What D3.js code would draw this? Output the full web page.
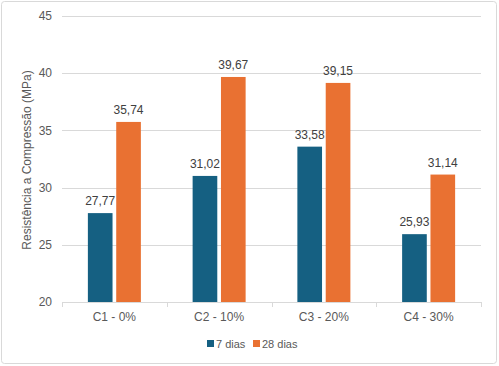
<!DOCTYPE html>
<html><head><meta charset="utf-8">
<script src="https://cdn.jsdelivr.net/npm/d3@7"></script>
<style>body{margin:0;background:#fff;} text{font-family:Arial,"Liberation Sans",sans-serif;}</style>
</head><body>
<svg id="c" width="499" height="366"></svg>
<script>
const categories = ["C1 - 0%", "C2 - 10%", "C3 - 20%", "C4 - 30%"];
const seriesNames = ["7 dias", "28 dias"];
const dias7 = [27.77, 31.02, 33.58, 25.93];
const dias28 = [35.74, 39.67, 39.15, 31.14];
const yTicks = [20, 25, 30, 35, 40, 45];
const colors = ["#156082", "#E97132"];

(function(){
const svg = d3.select("#c");
svg.append("rect").attr("x",1.5).attr("y",1.5).attr("width",495).attr("height",362).attr("rx",3)
  .attr("fill","#fff").attr("stroke","#d9d9d9");

const pL=62, pR=481, pT=16, pB=302;
const x = d3.scaleBand().domain(categories).range([pL,pR]);
const y = d3.scaleLinear().domain([20,45]).range([pB,pT]);
const inner = d3.scaleBand().domain(seriesNames).range([0,53]).paddingInner(0.13);

svg.append("g").selectAll("line").data(yTicks.slice(1)).join("line")
  .attr("x1",pL).attr("x2",pR).attr("y1",d=>Math.round(y(d))+0.5).attr("y2",d=>Math.round(y(d))+0.5)
  .attr("stroke","#d9d9d9").attr("stroke-width",1);

svg.append("g").selectAll("text").data(yTicks).join("text")
  .attr("x",52).attr("y",d=>y(d)).attr("dy","0.35em").attr("text-anchor","end")
  .attr("font-size",12).attr("fill","#595959").text(d=>d);

const data = [dias7, dias28];
const off = (x.bandwidth()-53)/2;
data.forEach((vals,si)=>{
  const g = svg.append("g");
  g.selectAll("rect").data(vals).join("rect")
    .attr("x",(d,i)=>x(categories[i])+off+inner(seriesNames[si]))
    .attr("width",inner.bandwidth())
    .attr("y",d=>y(d)).attr("height",d=>y(20)-y(d))
    .attr("fill",colors[si]);
  g.selectAll("text").data(vals).join("text")
    .attr("x",(d,i)=>x(categories[i])+off+inner(seriesNames[si])+inner.bandwidth()/2)
    .attr("y",d=>y(d)-8).attr("text-anchor","middle")
    .attr("font-size",12).attr("fill","#404040")
    .text(d=>d.toFixed(2).replace(".",","));
});

const xa = svg.append("g");
xa.append("line").attr("x1",pL).attr("x2",pR).attr("y1",pB+0.5).attr("y2",pB+0.5).attr("stroke","#d9d9d9");
const tickXs = categories.map(c=>x(c)).concat([pR]);
xa.selectAll("line.t").data(tickXs).join("line").attr("class","t")
  .attr("x1",d=>Math.round(d)+0.5).attr("x2",d=>Math.round(d)+0.5).attr("y1",pB).attr("y2",pB+5).attr("stroke","#d9d9d9");
xa.selectAll("text").data(categories).join("text")
  .attr("x",d=>x(d)+x.bandwidth()/2).attr("y",321).attr("text-anchor","middle")
  .attr("font-size",12).attr("fill","#595959").text(d=>d);

svg.append("text").attr("transform","translate(31,160) rotate(-90)").attr("text-anchor","middle")
  .attr("font-size",12).attr("fill","#595959").text("Resistência a Compressão (MPa)");

const legX = [207, 253];
seriesNames.forEach((s,i)=>{
  svg.append("rect").attr("x",legX[i]).attr("y",340).attr("width",7).attr("height",7).attr("fill",colors[i]);
  svg.append("text").attr("x",legX[i]+9).attr("y",348).attr("font-size",11).attr("fill","#595959").text(s);
});
})();
</script>
</body></html>
